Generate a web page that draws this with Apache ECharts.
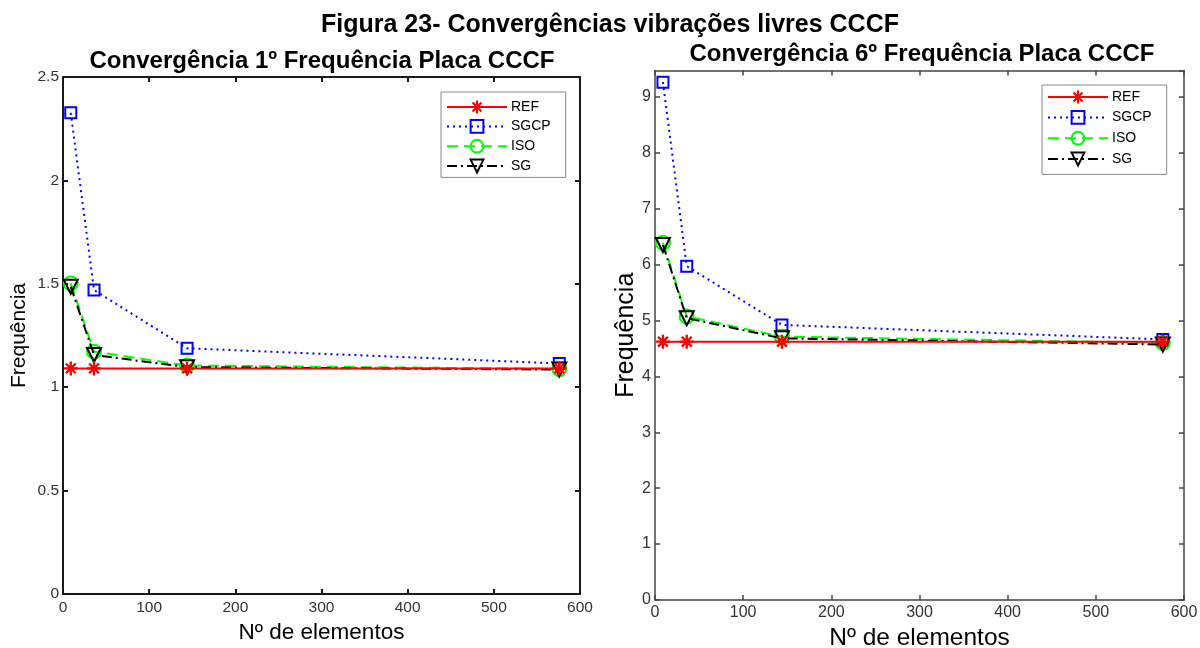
<!DOCTYPE html>
<html>
<head>
<meta charset="utf-8">
<script src="https://cdn.jsdelivr.net/npm/echarts@6/dist/echarts.min.js"></script>
<style>
html,body{margin:0;padding:0;background:#fff;}
#c{width:1200px;height:648px;}
</style>
</head>
<body>
<div id="c"></div>
<script>
// ---- data ----
var elems = [9, 36, 144, 576];
var names = ['REF', 'SGCP', 'ISO', 'SG'];
// 1st frequency
var f1_REF  = [1.091, 1.091, 1.091, 1.091];
var f1_SGCP = [2.327, 1.470, 1.188, 1.115];
var f1_ISO  = [1.502, 1.172, 1.105, 1.088];
var f1_SG   = [1.486, 1.156, 1.097, 1.085];
// 6th frequency
var f6_REF  = [4.62, 4.62, 4.62, 4.62];
var f6_SGCP = [9.26, 5.97, 4.92, 4.66];
var f6_ISO  = [6.39, 5.07, 4.71, 4.60];
var f6_SG   = [6.35, 5.04, 4.68, 4.57];

var mainTitle = 'Figura 23- Convergências vibrações livres CCCF';
var title1 = 'Convergência 1º Frequência Placa CCCF';
var title6 = 'Convergência 6º Frequência Placa CCCF';
var xName = 'Nº de elementos';
var yName = 'Frequência';

// ---- build ----
var FONT = '"Liberation Sans", Arial, sans-serif';
var asterisk = 'path://M8.3 0L11.7 0L11.7 20L8.3 20Z M0 8.3L20 8.3L20 11.7L0 11.7Z M4.2 1.8L18.2 15.8L15.8 18.2L1.8 4.2Z M1.8 15.8L15.8 1.8L18.2 4.2L4.2 18.2Z';
var styles = {
  REF:  {color:'#ff0000', type:'solid', symbol: asterisk, size: 14, rotate: 0, z: 5},
  SGCP: {color:'#0000ff', type:[2,4], symbol:'rect', size: 11, rotate: 0, z: 2},
  ISO:  {color:'#00ff00', type:[11,6], symbol:'circle', size: 14, rotate: 0, z: 3},
  SG:   {color:'#000000', type:[10,4,2,4], symbol:'triangle', size: 14, rotate: 180, z: 4}
};
function zip(v){ return elems.map(function(x,i){ return [x, v[i]]; }); }
function mkSeries(name, vals, idx){
  var s = styles[name];
  var hollow = name !== 'REF';
  return {
    type:'line', name:name, xAxisIndex: idx*2, yAxisIndex: idx*2,
    data: zip(vals), symbol: s.symbol, symbolSize: s.size, symbolRotate: s.rotate,
    showAllSymbol: true, z: s.z,
    lineStyle:{color:s.color, width:2, type:s.type},
    itemStyle: hollow ? {color:'rgba(0,0,0,0)', borderColor:s.color, borderWidth:2}
                      : {color:s.color, borderWidth:0},
    emphasis:{disabled:true}
  };
}
var axLine = function(c,w){ return {show:true, onZero:false, lineStyle:{color:c, width:w}}; };
function xAxes(gi, c, w, gap, fs, nfs, margin){
  return [
    {type:'value', gridIndex:gi, min:0, max:600, interval:100, position:'bottom',
     axisLine:axLine(c,w), axisTick:{inside:true, length:5, lineStyle:{color:c,width:w}},
     axisLabel:{color:'#333', fontSize:fs, fontFamily:FONT, margin:margin},
     splitLine:{show:false}, name:xName, nameLocation:'middle', nameGap:gap,
     nameTextStyle:{fontSize:nfs, fontFamily:FONT, color:'#000'}},
    {type:'value', gridIndex:gi, min:0, max:600, interval:100, position:'top',
     axisLine:axLine(c,w), axisTick:{inside:true, length:5, lineStyle:{color:c,width:w}},
     axisLabel:{show:false}, splitLine:{show:false}}
  ];
}
function yAxes(gi, max, interval, c, w, gap, fs, nfs){
  return [
    {type:'value', gridIndex:gi, min:0, max:max, interval:interval, position:'left',
     axisLine:axLine(c,w), axisTick:{inside:true, length:5, lineStyle:{color:c,width:w}},
     axisLabel:{color:'#333', fontSize:fs, fontFamily:FONT, margin:4, showMaxLabel: max % interval === 0,
       formatter:function(v){ return String(v); }},
     splitLine:{show:false}, name:yName, nameLocation:'middle', nameGap:gap,
     nameTextStyle:{fontSize:nfs, fontFamily:FONT, color:'#000'}},
    {type:'value', gridIndex:gi, min:0, max:max, interval:interval, position:'right',
     axisLine:axLine(c,w), axisTick:{inside:true, length:5, lineStyle:{color:c,width:w}},
     axisLabel:{show:false}, splitLine:{show:false}}
  ];
}
var legendBase = {
  orient:'vertical', backgroundColor:'#fff', borderColor:'#888', borderWidth:1,
  itemWidth:60, itemHeight:16, itemGap:5, padding:[8,15,4,5],
  textStyle:{fontSize:14, fontFamily:FONT, color:'#000', padding:[0,0,0,-1]},
  selectedMode:false, data:names
};
var option = {
  animation:false,
  title:[
    {text:mainTitle, left:605, top:8, textAlign:'center',
     textStyle:{fontSize:25, fontWeight:'bold', fontFamily:FONT, color:'#000'}},
    {text:title1, left:317, top:44, textAlign:'center',
     textStyle:{fontSize:24, fontWeight:'bold', fontFamily:FONT, color:'#000'}},
    {text:title6, left:917, top:37, textAlign:'center',
     textStyle:{fontSize:24, fontWeight:'bold', fontFamily:FONT, color:'#000'}}
  ],
  legend:[
    Object.assign({}, legendBase, {left:441, top:92}),
    Object.assign({}, legendBase, {left:1042, top:85, itemGap:6, padding:[5,15,8,5]})
  ],
  grid:[
    {left:63, top:77, width:517, height:517, outerBoundsMode:'none', containLabel:false},
    {left:655, top:70.5, width:529, height:529.5, outerBoundsMode:'none', containLabel:false}
  ],
  xAxis: xAxes(0,'#1a1a1a',2,25,15.5,22.5,6).concat(xAxes(1,'#444',1.5,24,16,24.5,5)),
  yAxis: yAxes(0,2.5,0.5,'#1a1a1a',2,33,15.5,21).concat(yAxes(1,9.47,1,'#444',1.5,15,16,25)),
  series:[
    mkSeries('REF', f1_REF, 0), mkSeries('SGCP', f1_SGCP, 0), mkSeries('ISO', f1_ISO, 0), mkSeries('SG', f1_SG, 0),
    mkSeries('REF', f6_REF, 1), mkSeries('SGCP', f6_SGCP, 1), mkSeries('ISO', f6_ISO, 1), mkSeries('SG', f6_SG, 1)
  ]
};
var chart = echarts.init(document.getElementById('c'), null, {renderer:'canvas'});
chart.setOption(option);
</script>
</body>
</html>
